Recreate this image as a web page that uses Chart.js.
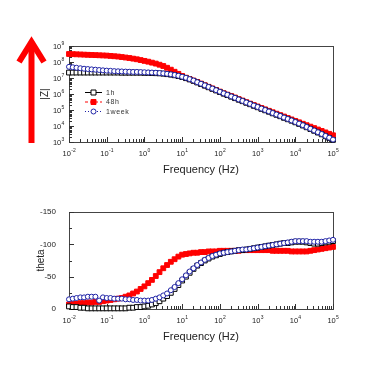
<!DOCTYPE html>
<html>
<head>
<meta charset="utf-8">
<script src="https://cdn.jsdelivr.net/npm/chart.js@4.4.1/dist/chart.umd.min.js"></script>
<style>
  html, body { margin: 0; padding: 0; background: #fff; }
  #wrap { position: relative; width: 379px; height: 379px; }
  .box { position: absolute; left: 0; width: 379px; }
</style>
</head>
<body>
<div id="wrap">
  <div class="box" style="top:0;height:190px"><canvas id="zChart" width="379" height="190"></canvas></div>
  <div class="box" style="top:190px;height:189px"><canvas id="thetaChart" width="379" height="189"></canvas></div>
</div>
<script>
// frequencies (Hz), 10 points per decade
const freqs = [
  0.01, 0.0126, 0.0158, 0.02, 0.0251, 0.0316, 0.0398, 0.0501, 0.0631, 0.0794,
  0.1, 0.126, 0.158, 0.2, 0.251, 0.316, 0.398, 0.501, 0.631, 0.794,
  1, 1.26, 1.58, 2, 2.51, 3.16, 3.98, 5.01, 6.31, 7.94,
  10, 12.6, 15.8, 20, 25.1, 31.6, 39.8, 50.1, 63.1, 79.4,
  100, 126, 158, 200, 251, 316, 398, 501, 631, 794,
  1000, 1259, 1585, 1995, 2512, 3162, 3981, 5012, 6310, 7943,
  10000, 12589, 15849, 19953, 25119, 31623, 39811, 50119, 63096, 79433,
  100000
];

const seriesNames = ['1h', '48h', '1week'];

// log10 |Z|
const logZ_1h = [
  7.34, 7.34, 7.34, 7.34, 7.34, 7.34, 7.34, 7.34, 7.34, 7.34,
  7.34, 7.34, 7.34, 7.34, 7.33, 7.33, 7.33, 7.33, 7.33, 7.33,
  7.32, 7.32, 7.31, 7.30, 7.29, 7.27, 7.24, 7.21, 7.17, 7.12,
  7.06, 6.99, 6.91, 6.82, 6.72, 6.62, 6.52, 6.42, 6.32, 6.22,
  6.12, 6.02, 5.93, 5.83, 5.74, 5.64, 5.55, 5.45, 5.36, 5.26,
  5.17, 5.07, 4.98, 4.89, 4.79, 4.70, 4.61, 4.51, 4.42, 4.33,
  4.23, 4.13, 4.03, 3.92, 3.81, 3.70, 3.59, 3.48, 3.36, 3.25, 3.13
];
const logZ_48h = [
  8.50, 8.49, 8.48, 8.47, 8.46, 8.45, 8.44, 8.43, 8.42, 8.41,
  8.40, 8.38, 8.36, 8.34, 8.31, 8.28, 8.25, 8.21, 8.17, 8.12,
  8.07, 8.02, 7.96, 7.90, 7.83, 7.75, 7.64, 7.52, 7.39, 7.26,
  7.13, 7.02, 6.93, 6.84, 6.75, 6.65, 6.55, 6.45, 6.35, 6.25,
  6.15, 6.05, 5.96, 5.87, 5.78, 5.68, 5.59, 5.49, 5.40, 5.31,
  5.22, 5.13, 5.04, 4.95, 4.86, 4.77, 4.68, 4.59, 4.50, 4.41,
  4.32, 4.23, 4.14, 4.05, 3.96, 3.87, 3.78, 3.69, 3.60, 3.51, 3.42
];
const logZ_1week = [
  7.70, 7.67, 7.64, 7.61, 7.58, 7.56, 7.54, 7.52, 7.50, 7.48,
  7.46, 7.45, 7.43, 7.42, 7.41, 7.40, 7.39, 7.38, 7.38, 7.37,
  7.36, 7.35, 7.34, 7.33, 7.31, 7.29, 7.26, 7.23, 7.19, 7.14,
  7.08, 7.01, 6.93, 6.84, 6.74, 6.64, 6.54, 6.44, 6.34, 6.24,
  6.14, 6.04, 5.95, 5.85, 5.76, 5.66, 5.57, 5.47, 5.38, 5.28,
  5.19, 5.09, 5.00, 4.91, 4.81, 4.72, 4.63, 4.53, 4.44, 4.35,
  4.25, 4.15, 4.05, 3.94, 3.83, 3.72, 3.61, 3.50, 3.38, 3.27, 3.15
];

// phase angle (degrees)
const theta_1h = [
  -4, -3, -3, -2, -2, -1, -1, -1, -1, -1,
  -1, -1, -1, -1, -1, -1, -2, -2, -3, -3,
  -4, -5, -7, -9, -12, -16, -20, -25, -31, -37,
  -44, -50, -56, -62, -67, -71, -75, -78, -81, -83,
  -85, -87, -88, -89, -90, -91, -91, -92, -93, -94,
  -95, -96, -97, -98, -99, -100, -101, -102, -102, -103,
  -104, -104, -104, -103, -102, -101, -101, -102, -103, -104, -105
];
const theta_48h = [
  -7, -8, -8, -9, -9, -10, -10, -11, -11, -12,
  -13, -14, -15, -16, -17, -19, -21, -24, -27, -31,
  -35, -40, -45, -51, -57, -63, -68, -73, -77, -81,
  -84, -85, -86, -87, -87, -88, -88, -89, -89, -89,
  -90, -90, -90, -90, -90, -90, -91, -91, -91, -91,
  -91, -91, -91, -91, -90, -90, -90, -90, -90, -89,
  -89, -89, -89, -89, -90, -91, -92, -93, -94, -95, -96
];
const theta_1week = [
  -15, -16, -17, -18, -18, -19, -19, -19, -13, -18,
  -17, -17, -16, -16, -16, -15, -15, -14, -14, -13,
  -13, -13, -14, -16, -18, -21, -24, -29, -34, -40,
  -46, -52, -58, -63, -68, -72, -76, -79, -82, -84,
  -86, -87, -88, -89, -90, -91, -92, -92, -93, -94,
  -95, -96, -97, -98, -99, -100, -101, -102, -103, -104,
  -105, -105, -105, -105, -104, -104, -104, -104, -105, -106, -107
];

// axis labels (powers of ten written as 10 + exponent)
const freqDecades = [0.01, 0.1, 1, 10, 100, 1000, 10000, 100000];
const freqExponents = ['-2', '-1', '0', '1', '2', '3', '4', '5'];
const zDecades = [1e3, 1e4, 1e5, 1e6, 1e7, 1e8, 1e9];
const zExponents = ['3', '4', '5', '6', '7', '8', '9'];
const thetaTicks = [0, -50, -100, -150];

const BLUE = '#1e22a6';
const RED = '#ff0000';
const INK = '#222';
const FONT = "'Liberation Sans', Arial, sans-serif";

Chart.defaults.font.family = FONT;
Chart.defaults.color = INK;

function makeSet(i, values, color, style, fill, dash, order) {
  return {
    label: seriesNames[i],
    data: freqs.map((f, k) => ({ x: f, y: values[k] })),
    borderColor: color,
    borderWidth: 1,
    borderDash: dash,
    pointStyle: style,
    pointRadius: style === 'rect' ? 3.4 : 2.5,
    pointBackgroundColor: fill,
    pointBorderColor: color,
    pointBorderWidth: 1,
    showLine: true,
    clip: false,
    order: order
  };
}

// decade ticks plus 2..9 minor ticks
function logTicks(lo, hi) {
  const out = [];
  for (let d = lo; d <= hi * 1.0001; d *= 10) {
    for (let m = 1; m <= 9; m++) {
      const v = d * m;
      if (v > hi * 1.0001) break;
      out.push({ value: v, major: m === 1 });
    }
  }
  return out;
}

function freqAxis() {
  return {
    type: 'logarithmic',
    min: 0.01,
    max: 100000,
    grid: { display: false },
    border: { display: false },
    afterBuildTicks: s => { s.ticks = logTicks(0.01, 100000); },
    afterFit: s => { s.height = 39; },
    ticks: { display: false },
    title: { display: true, text: 'Frequency (Hz)', font: { size: 11 }, padding: { top: 4, bottom: 4 } }
  };
}

// "10" with a small raised exponent
function drawPower(ctx, exp, x, y, align) {
  ctx.font = '7.5px ' + FONT;
  const w1 = ctx.measureText('10').width;
  ctx.font = '5px ' + FONT;
  const w2 = ctx.measureText(exp).width;
  const start = align === 'right' ? x - w1 - w2 : x - (w1 + w2) / 2;
  ctx.font = '7.5px ' + FONT;
  ctx.fillText('10', start, y);
  ctx.font = '5px ' + FONT;
  ctx.fillText(exp, start + w1 + 0.3, y - 3.6);
}

const powerLabels = {
  id: 'powerLabels',
  afterDraw(chart, args, opts) {
    const { ctx, chartArea: a, scales } = chart;
    ctx.save();
    ctx.fillStyle = INK;
    ctx.textAlign = 'left';
    ctx.textBaseline = 'alphabetic';
    freqDecades.forEach((d, i) => {
      drawPower(ctx, freqExponents[i], scales.x.getPixelForValue(d), a.bottom + 13.5, 'center');
    });
    if (opts.logY) {
      zDecades.forEach((d, i) => {
        drawPower(ctx, zExponents[i], a.left - 5, scales.y.getPixelForValue(d) + 3, 'right');
      });
    }
    ctx.restore();
  }
};

// box frame and inward tick marks
const frameTicks = {
  id: 'frameTicks',
  beforeDatasetsDraw(chart) {
    const { ctx, chartArea: a, scales } = chart;
    ctx.save();
    ctx.strokeStyle = '#444';
    ctx.lineWidth = 1;
    ctx.strokeRect(Math.round(a.left) + 0.5, Math.round(a.top) + 0.5, Math.round(a.right - a.left), Math.round(a.bottom - a.top));
    ctx.strokeStyle = '#333';
    ctx.beginPath();
    scales.x.ticks.forEach(t => {
      const x = Math.round(scales.x.getPixelForValue(t.value)) + 0.5;
      ctx.moveTo(x, a.bottom);
      ctx.lineTo(x, a.bottom - (t.major ? 5 : 3));
    });
    scales.y.ticks.forEach(t => {
      const y = Math.round(scales.y.getPixelForValue(t.value)) + 0.5;
      const major = t.major || thetaTicks.includes(t.value);
      ctx.moveTo(a.left, y);
      ctx.lineTo(a.left + (major ? 5 : 3), y);
    });
    ctx.stroke();
    ctx.restore();
  }
};

// legend inside the |Z| plot
const insideLegend = {
  id: 'insideLegend',
  afterDraw(chart) {
    const { ctx } = chart;
    const rows = [92.5, 102, 111.5];
    ctx.save();
    chart.data.datasets.forEach((ds, i) => {
      const y = rows[i];
      ctx.strokeStyle = ds.borderColor;
      ctx.lineWidth = 1;
      ctx.setLineDash(ds.borderDash);
      ctx.beginPath();
      ctx.moveTo(85, y);
      ctx.lineTo(102, y);
      ctx.stroke();
      ctx.setLineDash([]);
      ctx.fillStyle = ds.pointBackgroundColor;
      ctx.beginPath();
      if (ds.pointStyle === 'rect') ctx.rect(91, y - 2.5, 5, 5);
      else ctx.arc(93.5, y, 2.5, 0, Math.PI * 2);
      ctx.fill();
      ctx.stroke();
      ctx.fillStyle = '#333';
      ctx.font = '7px ' + FONT;
      ctx.letterSpacing = '0.6px';
      ctx.textBaseline = 'middle';
      ctx.fillText(ds.label, 106, y + 0.5);
    });
    ctx.restore();
  }
};

// big red arrow left of the |Z| axis
const redArrow = {
  id: 'redArrow',
  afterDraw(chart) {
    const { ctx } = chart;
    ctx.save();
    ctx.strokeStyle = RED;
    ctx.lineWidth = 6;
    ctx.beginPath();
    ctx.moveTo(31.5, 143);
    ctx.lineTo(31.5, 42);
    ctx.stroke();
    ctx.beginPath();
    ctx.moveTo(19, 62);
    ctx.lineTo(31.5, 42);
    ctx.lineTo(44, 62);
    ctx.stroke();
    ctx.restore();
  }
};

new Chart(document.getElementById('zChart'), {
  type: 'line',
  data: {
    datasets: [
      makeSet(0, logZ_1h.map(v => 10 ** v), '#000', 'rect', '#fff', [], 2),
      makeSet(1, logZ_48h.map(v => 10 ** v), RED, 'rect', RED, [3, 2], 3),
      makeSet(2, logZ_1week.map(v => 10 ** v), BLUE, 'circle', '#fff', [1, 2], 1)
    ]
  },
  options: {
    responsive: false,
    animation: false,
    layout: { padding: { left: 34, right: 46, top: 46, bottom: 9 } },
    plugins: { legend: { display: false }, tooltip: { enabled: false }, powerLabels: { logY: true } },
    scales: {
      x: freqAxis(),
      y: {
        type: 'logarithmic',
        min: 1e3,
        max: 1e9,
        grid: { display: false },
        border: { display: false },
        afterBuildTicks: s => { s.ticks = logTicks(1e3, 1e9); },
        afterFit: s => { s.width = 35; },
        ticks: { display: false },
        title: { display: true, text: '|Z|', font: { size: 10 }, padding: { top: 5, bottom: 0 } }
      }
    }
  },
  plugins: [frameTicks, powerLabels, insideLegend, redArrow]
});

new Chart(document.getElementById('thetaChart'), {
  type: 'line',
  data: {
    datasets: [
      makeSet(0, theta_1h, '#000', 'rect', '#fff', [], 2),
      makeSet(1, theta_48h, RED, 'rect', RED, [3, 2], 3),
      makeSet(2, theta_1week, BLUE, 'circle', '#fff', [1, 2], 1)
    ]
  },
  options: {
    responsive: false,
    animation: false,
    layout: { padding: { left: 34, right: 46, top: 22, bottom: 31 } },
    plugins: { legend: { display: false }, tooltip: { enabled: false }, powerLabels: { logY: false } },
    scales: {
      x: freqAxis(),
      y: {
        type: 'linear',
        min: -150,
        max: 0,
        reverse: true,
        grid: { display: false },
        border: { display: false },
        afterFit: s => { s.width = 35; },
        ticks: {
          stepSize: 25,
          autoSkip: false,
          padding: 5,
          font: { size: 8 },
          callback: v => thetaTicks.includes(v) ? String(v) : ''
        },
        title: { display: true, text: 'theta', font: { size: 10 }, padding: { top: 1.5, bottom: 0 } }
      }
    }
  },
  plugins: [frameTicks, powerLabels]
});
</script>
</body>
</html>
